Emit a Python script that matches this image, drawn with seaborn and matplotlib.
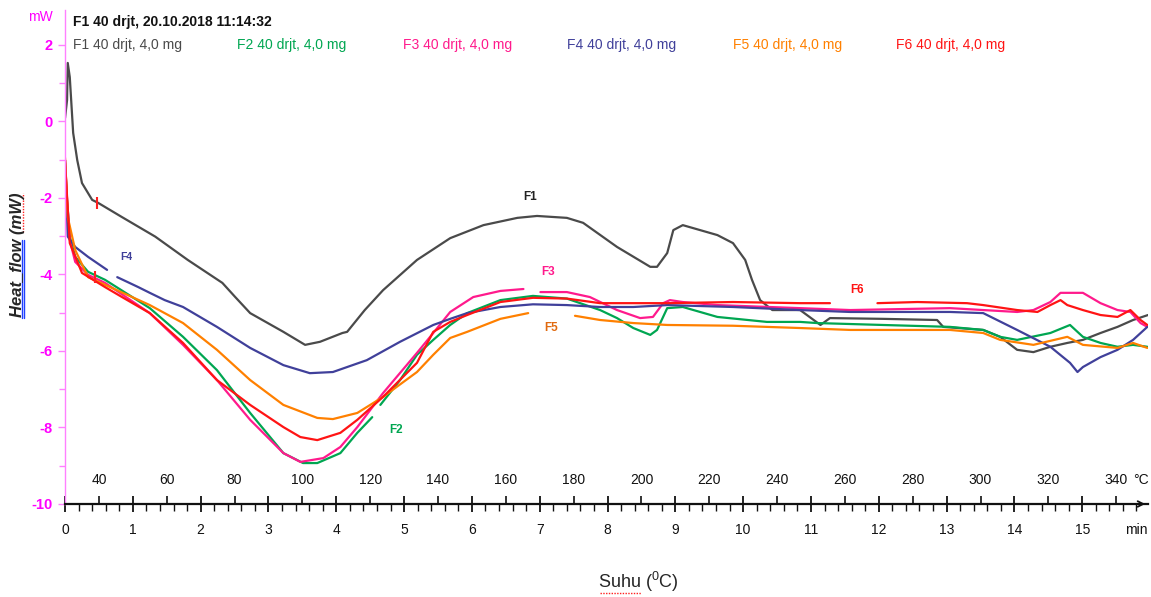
# DSC thermogram: six F-samples, heat flow vs time / temperature
import numpy as np
import pandas as pd
import seaborn as sns
import matplotlib.pyplot as plt
from matplotlib.lines import Line2D
from matplotlib.ticker import FixedLocator, MultipleLocator

sns.set_style("ticks")
plt.rcParams['font.family'] = ['Liberation Sans', 'DejaVu Sans']
plt.rcParams['axes.unicode_minus'] = False

nan = np.nan

# time (min) and heat flow (mW), nan = gap in the curve
f1_t = [0.00, 0.03, 0.04, 0.07, 0.12, 0.18, 0.25, 0.40, 0.49, 0.84, 1.33, 1.81, 2.32, 2.51,
        2.73, 3.22, 3.54, 3.76, 4.09, 4.16, 4.42, 4.69, 5.19, 5.68, 6.17, 6.67, 6.96, 7.40,
        7.64, 8.14, 8.63, 8.73, 8.88, 8.97, 9.11, 9.62, 9.85, 10.03, 10.13, 10.25, 10.43,
        10.84, 11.14, 11.28, 12.06, 12.86, 12.95, 13.54, 13.79, 14.04, 14.28, 14.53, 14.78,
        15.01, 15.27, 15.52, 15.75, 15.97]
f1_mw = [0.09, 0.56, 1.53, 1.16, -0.30, -1.01, -1.61, -2.05, -2.13, -2.50, -3.01, -3.62,
         -4.22, -4.59, -5.01, -5.50, -5.84, -5.76, -5.53, -5.50, -4.93, -4.41, -3.62, -3.05,
         -2.71, -2.52, -2.47, -2.52, -2.65, -3.28, -3.80, -3.80, -3.44, -2.84, -2.71, -2.97,
         -3.18, -3.62, -4.14, -4.67, -4.93, -4.93, -5.32, -5.14, -5.16, -5.19, -5.37, -5.45,
         -5.63, -5.97, -6.03, -5.89, -5.79, -5.71, -5.53, -5.37, -5.19, -5.06]

f2_t = [0.00, 0.03, 0.07, 0.15, 0.34, 0.59, 1.25, 1.74, 2.24, 2.73, 3.22, 3.51, 3.72, 4.06,
        4.31, 4.53, nan, 4.65, 4.94, 5.19, 5.43, 5.68, 5.93, 6.42, 6.90, 7.40, 7.89, 8.14,
        8.38, 8.63, 8.73, 8.88, 9.11, 9.62, 10.35, 10.84, 11.09, 12.06, 13.05, 13.54, 13.79,
        14.04, 14.53, 14.82, 15.01, 15.27, 15.52, 15.75, 15.96]
f2_mw = [-1.08, -2.05, -3.01, -3.54, -3.93, -4.14, -4.88, -5.63, -6.50, -7.62, -8.67, -8.93,
         -8.93, -8.67, -8.14, -7.73, nan, -7.41, -6.76, -6.10, -5.71, -5.32, -5.01, -4.67,
         -4.56, -4.63, -4.93, -5.14, -5.40, -5.58, -5.45, -4.88, -4.85, -5.11, -5.24, -5.24,
         -5.27, -5.32, -5.37, -5.45, -5.63, -5.71, -5.53, -5.32, -5.63, -5.79, -5.89, -5.84,
         -5.89]

f3_t = [0.00, 0.03, 0.07, 0.15, 0.34, 0.59, 1.25, 1.74, 2.24, 2.73, 3.22, 3.47, 3.81, 4.06,
        4.31, 4.69, 5.19, 5.43, 5.68, 6.02, 6.42, 6.76, nan, 7.01, 7.40, 7.74, 8.14, 8.48,
        8.67, 8.82, 8.92, 9.11, 9.62, 10.84, 11.58, 13.05, 13.54, 14.04, 14.28, 14.53, 14.68,
        15.01, 15.27, 15.52, 15.71, 15.86, 15.96]
f3_mw = [-1.01, -2.05, -3.10, -3.67, -4.01, -4.22, -5.01, -5.84, -6.76, -7.80, -8.67, -8.90,
         -8.80, -8.51, -7.99, -7.10, -6.05, -5.53, -4.98, -4.59, -4.43, -4.38, nan, -4.46,
         -4.46, -4.59, -4.93, -5.14, -5.11, -4.75, -4.67, -4.72, -4.80, -4.88, -4.93, -4.88,
         -4.93, -4.98, -4.93, -4.72, -4.48, -4.48, -4.75, -4.93, -4.98, -5.27, -5.37]

f4_t = [0.00, 0.04, 0.15, 0.34, 0.62, nan, 0.77, 1.08, 1.25, 1.47, 1.74, 2.24, 2.73, 3.22,
        3.61, 3.95, 4.45, 4.94, 5.43, 5.68, 5.93, 6.42, 6.90, 7.40, 7.89, 8.38, 8.88, 9.85,
        10.84, 11.58, 13.05, 13.54, 14.04, 14.53, 14.82, 14.93, 15.01, 15.27, 15.52, 15.75,
        15.96]
f4_mw = [-1.01, -3.01, -3.28, -3.54, -3.88, nan, -4.07, -4.33, -4.48, -4.67, -4.85, -5.37,
         -5.92, -6.37, -6.58, -6.55, -6.24, -5.76, -5.32, -5.16, -5.01, -4.85, -4.78, -4.80,
         -4.85, -4.85, -4.80, -4.85, -4.93, -4.98, -4.98, -5.01, -5.45, -5.89, -6.31, -6.55,
         -6.42, -6.16, -5.97, -5.71, -5.37]

f5_t = [0.00, 0.04, 0.15, 0.34, 0.59, 1.25, 1.74, 2.24, 2.73, 3.22, 3.72, 3.95, 4.31, 4.69,
        5.19, 5.43, 5.68, 5.93, 6.42, 6.83, nan, 7.52, 7.89, 8.38, 8.88, 9.85, 10.84, 11.58,
        13.05, 13.54, 13.79, 14.28, 14.78, 15.01, 15.52, 15.75, 15.96]
f5_mw = [-0.95, -2.50, -3.36, -4.07, -4.27, -4.80, -5.27, -5.97, -6.76, -7.41, -7.75, -7.78,
         -7.62, -7.20, -6.55, -6.10, -5.66, -5.50, -5.16, -5.01, nan, -5.08, -5.19, -5.27,
         -5.32, -5.34, -5.40, -5.45, -5.45, -5.53, -5.71, -5.84, -5.63, -5.84, -5.92, -5.79,
         -5.92]

f6_t = [0.00, 0.03, 0.07, 0.25, 0.59, 0.84, 1.25, 1.74, 2.24, 2.73, 3.22, 3.47, 3.72, 4.06,
        4.31, 4.69, 5.19, 5.43, 5.68, 5.93, 6.42, 6.90, 7.40, 7.89, 8.88, 9.85, 10.84, 11.28,
        nan, 11.98, 12.57, 13.30, 13.54, 14.04, 14.34, 14.53, 14.68, 14.78, 15.01, 15.27,
        15.52, 15.71, 15.86, 15.96]
f6_mw = [-1.01, -1.97, -3.18, -3.96, -4.33, -4.59, -5.01, -5.79, -6.76, -7.41, -7.99, -8.25,
         -8.33, -8.14, -7.80, -7.20, -6.31, -5.50, -5.24, -5.06, -4.72, -4.61, -4.63, -4.75,
         -4.75, -4.72, -4.75, -4.75, nan, -4.75, -4.72, -4.75, -4.80, -4.93, -4.98, -4.80,
         -4.67, -4.80, -4.93, -5.06, -5.11, -4.93, -5.19, -5.32]

# onset marks (red) on the traces
mark_t = [0.47, 0.44]
mark_mw = [-2.13, -4.07]

samples = ["F1", "F2", "F3", "F4", "F5", "F6"]
colors = ["#4a4a4a", "#00a651", "#ff1a8c", "#40409a", "#ff8000", "#ff1414"]
series_t = [f1_t, f2_t, f3_t, f4_t, f5_t, f6_t]
series_mw = [f1_mw, f2_mw, f3_mw, f4_mw, f5_mw, f6_mw]

time_ticks = list(range(0, 16))
temp_ticks = list(range(40, 341, 20))
y_ticks = list(range(-10, 3, 2))

# long table, a new segment after each gap
rows = []
for name, ts, ys in zip(samples, series_t, series_mw):
    seg = 0
    for t, y in zip(ts, ys):
        if np.isnan(y):
            seg += 1
            continue
        rows.append({"sample": name, "seg": seg, "t": t, "mW": y})
df = pd.DataFrame(rows)

fig = plt.figure(figsize=(11.51, 5.97), dpi=100)
ax = fig.add_axes([0.0565, 0.1558, 0.9409, 0.8275])

sns.lineplot(data=df, x="t", y="mW", hue="sample", hue_order=samples,
             palette=dict(zip(samples, colors)), units="seg", estimator=None,
             sort=False, linewidth=1.6, legend=False, ax=ax)
ax.plot(mark_t, mark_mw, ls="none", marker="|", color="#ff2020", ms=9, mew=1.5)

ax.set_xlim(0, 15.97)
ax.set_ylim(-10, 2.915)
ax.set_xlabel("")
ax.set_ylabel("")

# time axis (bottom)
ax.set_xticks(time_ticks)
ax.xaxis.set_minor_locator(MultipleLocator(0.2))
ax.tick_params(axis="x", which="major", bottom=True, direction="inout", length=11,
               width=1.3, pad=8, labelsize=10, colors="#111111")
ax.tick_params(axis="x", which="minor", bottom=True, direction="out", length=5,
               width=1.0, colors="#111111")

# heat flow axis (left, magenta)
ax.set_yticks(y_ticks)
ax.yaxis.set_minor_locator(MultipleLocator(1))
ax.tick_params(axis="y", which="major", left=True, direction="out", length=5, width=1,
               colors="#ff80ff", labelcolor="#ff00ff", pad=4, labelsize=10.5)
ax.tick_params(axis="y", which="minor", left=True, direction="out", length=4, width=1,
               colors="#ff80ff")
for lab in ax.get_yticklabels():
    lab.set_fontweight("bold")

for s in ["top", "right"]:
    ax.spines[s].set_visible(False)
ax.spines["left"].set_color("#ff80ff")
ax.spines["left"].set_linewidth(1.0)
ax.spines["bottom"].set_color("#111111")
ax.spines["bottom"].set_linewidth(1.6)
ax.annotate("", xy=(1.0, 0), xytext=(0.985, 0), xycoords="axes fraction",
            arrowprops=dict(arrowstyle="->", color="#111111", lw=1.3))

# temperature scale sitting on the same line, labels above it
sec = ax.secondary_xaxis(0, functions=(lambda t: 30 + 20 * t, lambda T: (T - 30) / 20))
sec.set_alignment("top")
sec.xaxis.set_major_locator(FixedLocator(temp_ticks))
sec.tick_params(top=True, direction="out", length=6, width=1.2, pad=6, labelsize=10,
                colors="#111111")
for s in sec.spines.values():
    s.set_visible(False)

# curve names
ax.text(6.86, -1.97, "F1", color="#222222", fontsize=8.5, weight="bold", ha="center", va="center")
ax.text(4.88, -8.07, "F2", color="#00a651", fontsize=8.5, weight="bold", ha="center", va="center")
ax.text(7.12, -3.93, "F3", color="#ff1a8c", fontsize=8.5, weight="bold", ha="center", va="center")
ax.text(0.91, -3.54, "F4", color="#40409a", fontsize=7.5, weight="bold", ha="center", va="center")
ax.text(7.17, -5.40, "F5", color="#e06a10", fontsize=8.5, weight="bold", ha="center", va="center")
ax.text(11.68, -4.41, "F6", color="#ff1414", fontsize=8.5, weight="bold", ha="center", va="center")

# header and sample row
fig.text(0.0634, 0.9631, "F1 40 drjt, 20.10.2018 11:14:32", fontsize=10, weight="bold",
         color="#111111", va="center")
row_x = [0.0634, 0.2059, 0.3501, 0.4926, 0.6368, 0.7785]
for x, name, c in zip(row_x, samples, colors):
    fig.text(x, 0.9246, f"{name} 40 drjt, 4,0 mg", fontsize=10, color=c, va="center")

fig.text(0.0348, 0.9715, "mW", fontsize=10, color="#ff00ff", ha="center", va="center")
fig.text(0.9870, 0.1122, "min", fontsize=10, color="#111111", ha="center", va="center")
fig.text(0.9915, 0.1960, "\u00b0C", fontsize=10, color="#111111", ha="center", va="center")

# axis titles, with the word-processor underlines seen in the source image
fig.text(0.0156, 0.573, "Heat_flow (mW)", rotation=90, fontsize=12, style="italic",
         weight="bold", ha="center", va="center")
fig.add_artist(Line2D([0.0188, 0.0188], [0.468, 0.598], color="#2040ff", lw=1.0))
fig.add_artist(Line2D([0.0205, 0.0205], [0.468, 0.598], color="#2040ff", lw=1.0))
fig.add_artist(Line2D([0.0200, 0.0200], [0.612, 0.676], color="#ff2020", lw=1.0, ls=(0, (1, 1))))
fig.text(0.5543, 0.025, r"Suhu ($\mathregular{^0}$C)", fontsize=13, ha="center", va="center")
fig.add_artist(Line2D([0.521, 0.557], [0.006, 0.006], color="#ff2020", lw=1.0, ls=(0, (1, 1))))

fig.savefig("out.png", dpi=100, facecolor="white")
